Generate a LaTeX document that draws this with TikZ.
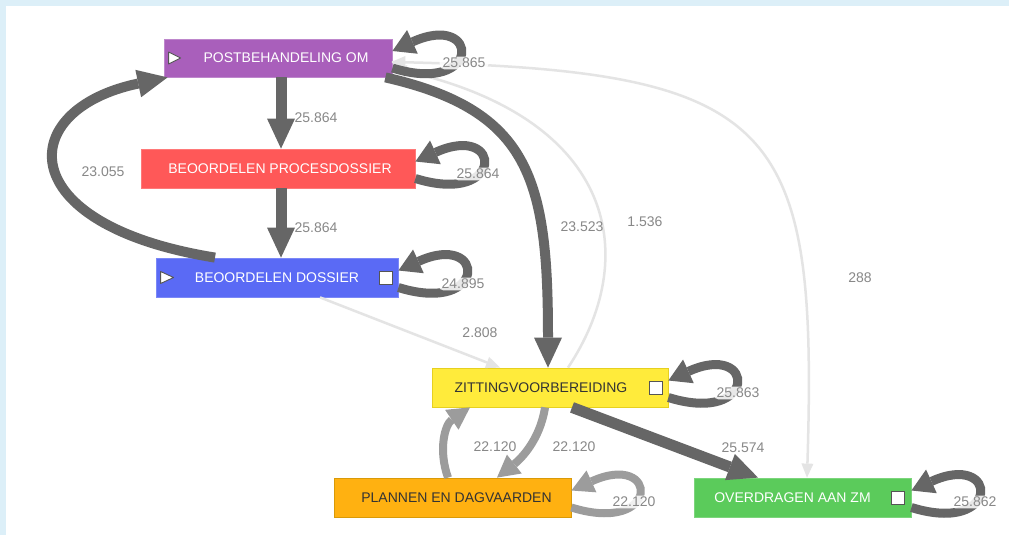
\documentclass[tikz,border=0pt]{standalone}
\usepackage{fontspec}
\setmainfont{Liberation Sans}
\usetikzlibrary{arrows.meta}
\definecolor{bgblue}{HTML}{DCEFF8}
\definecolor{cpurple}{HTML}{A95FBB}
\definecolor{cred}{HTML}{FF5858}
\definecolor{cblue}{HTML}{5A6AF5}
\definecolor{cyellow}{HTML}{FFEB3B}
\definecolor{cyellowb}{HTML}{E6D020}
\definecolor{corange}{HTML}{FFB111}
\definecolor{coranb}{HTML}{D99A08}
\definecolor{cgreen}{HTML}{5BCB5B}
\definecolor{edark}{HTML}{666666}
\definecolor{emid}{HTML}{9C9C9C}
\definecolor{elight}{HTML}{E4E4E4}
\definecolor{lbltext}{HTML}{888888}
\definecolor{icon}{HTML}{555555}
\definecolor{dtext}{HTML}{333333}
\begin{document}
\begin{tikzpicture}[x=1pt,y=-1pt,
  box/.style={rectangle, minimum height=39pt, inner sep=0pt, line width=0.8pt, font=\fontsize{14}{16}\selectfont},
  darkedge/.style={draw=edark, line width=11pt, -{Triangle[length=30pt,width=28pt,line width=0pt]}},
  midedge/.style={draw=emid, line width=8pt, -{Triangle[length=22pt,width=24pt,line width=0pt]}},
  lightedge/.style={draw=elight, line width=2.5pt, -{Triangle[length=14pt,width=12pt,line width=0pt]}},
  selfloop/.style={draw=edark, line width=9pt, -{Triangle[length=22pt,width=26pt,line width=0pt]}},
  selfloopmid/.style={draw=emid, line width=8pt, -{Triangle[length=22pt,width=24pt,line width=0pt]}},
  lbl/.style={text=lbltext, font=\fontsize{14}{16}\selectfont, inner sep=1.5pt},
  looplbl/.style={lbl, fill=white, fill opacity=0.85, text opacity=1, rounded corners=5pt, inner xsep=3pt},
  play/.style={draw=icon, fill=white, line width=0.9pt, line join=round},
  sq/.style={draw=icon, fill=white, line width=0.9pt}
]
\fill[bgblue] (0,0) rectangle (1009,535);
\fill[white] (6,6) rectangle (1009,535);
\useasboundingbox (0,0) rectangle (1009,535);

% nodes
\node[box, fill=cpurple, draw=cpurple!75!white, minimum width=228pt, minimum height=38pt, text=white] (post) at (278,58) {\hspace*{16pt}POSTBEHANDELING OM};
\node[box, fill=cred, draw=cred!80!white, minimum width=274pt, text=white] (proc) at (278,168.5) {\hspace*{4pt}BEOORDELEN PROCESDOSSIER};
\node[box, fill=cblue, draw=cblue!80!white, minimum width=242pt, text=white] (dos) at (277,277.5) {BEOORDELEN DOSSIER};
\node[box, fill=cyellow, draw=cyellowb, minimum width=236pt, text=dtext] (zit) at (550,387.5) {ZITTINGVOORBEREIDING\hspace*{18pt}};
\node[box, fill=corange, draw=coranb, minimum width=237pt, text=dtext] (plan) at (452.5,497.5) {\hspace*{8pt}PLANNEN EN DAGVAARDEN};
\node[box, fill=cgreen, draw=cgreen!80!white, minimum width=217pt, text=white] (over) at (802.5,497.5) {OVERDRAGEN AAN ZM\hspace*{20pt}};

% icons
\draw[play] (post.west) ++(5,-6) -- ++(0,12) -- ++(12,-6) -- cycle;
\draw[play] (dos.west) ++(5,-6) -- ++(0,12) -- ++(13,-6) -- cycle;
\draw[sq] (dos.east) ++(-19,-6.5) rectangle ++(13,13);
\draw[sq] (zit.east) ++(-18.5,-6.5) rectangle ++(13,13);
\draw[sq] (over.east) ++(-19.5,-6.5) rectangle ++(13,13);

% light edges
\draw[lightedge] ([yshift=-4pt]post.east) .. controls +(387,8) and +(11,-358) .. ([xshift=4.5pt]over.north);
\draw[lightedge] ([yshift=-4pt]post.east) -- +(-1,0) coordinate (postin);
\draw[lightedge] ([xshift=18pt]zit.north) .. controls +(72,-108) and +(227,52) .. ([yshift=-10pt]post.east);
\draw[lightedge] ([xshift=43pt]dos.south) -- ([xshift=-50pt]zit.north);

% dark edges
\draw[darkedge] ([xshift=3pt]post.south) -- ([xshift=3pt]proc.north);
\draw[darkedge] ([xshift=3pt]proc.south) -- ([xshift=4pt]dos.north);
\draw[darkedge, line width=10pt] ([xshift=-62pt]dos.north) .. controls +(-205,-33) and +(-153,32) .. ([xshift=4pt]post.south west);
\draw[darkedge, line width=10pt] ([xshift=-7pt]post.south east) .. controls +(145,33) and +(0,-188) .. ([xshift=-2pt]zit.north);
\draw[darkedge] ([xshift=22pt]zit.south) -- ([xshift=-44.5pt]over.north);

% mid edges
\draw[midedge] ([xshift=-5pt]zit.south) .. controls +(-5,33) and +(23,-18) .. ([xshift=44.5pt]plan.north);
\draw[midedge] ([xshift=-4.5pt]plan.north) .. controls +(-10,-28) and +(-25,17) .. ([xshift=-80pt]zit.south);

% self loops
\draw[selfloop] ([yshift=-10pt]post.east) .. controls +(90,28) and +(88,-40) .. ([yshift=7pt]post.east);
\draw[selfloop] ([yshift=-10pt]proc.east) .. controls +(90,28) and +(88,-40) .. ([yshift=7pt]proc.east);
\draw[selfloop] ([yshift=-10pt]dos.east) .. controls +(90,28) and +(88,-40) .. ([yshift=7pt]dos.east);
\draw[selfloop] ([yshift=-10pt]zit.east) .. controls +(90,28) and +(88,-40) .. ([yshift=7pt]zit.east);
\draw[selfloopmid] ([yshift=-10pt]plan.east) .. controls +(90,28) and +(88,-40) .. ([yshift=7pt]plan.east);
\draw[selfloop] ([yshift=-10pt]over.east) .. controls +(90,28) and +(88,-40) .. ([yshift=7pt]over.east);

% edge labels
\node[lbl] (l1) at (316,118) {25.864};
\node[lbl] (l2) at (316,228) {25.864};
\node[lbl] (l3) at (103,172) {23.055};
\node[lbl] (l4) at (582,227) {23.523};
\node[lbl] (l5) at (645,222) {1.536};
\node[lbl] (l6) at (860,278) {288};
\node[lbl] (l7) at (480,333) {2.808};
\node[lbl] (l8) at (743,448) {25.574};
\node[lbl] (l9) at (495,447) {22.120};
\node[lbl] (l10) at (574,447) {22.120};

% self loop labels
\node[looplbl] (s1) at (464,63) {25.865};
\node[looplbl] (s2) at (478,174) {25.864};
\node[looplbl] (s3) at (463,284) {24.895};
\node[looplbl] (s4) at (738,393) {25.863};
\node[looplbl] (s5) at (634,502) {22.120};
\node[looplbl] (s6) at (975,502) {25.862};
\end{tikzpicture}
\end{document}
